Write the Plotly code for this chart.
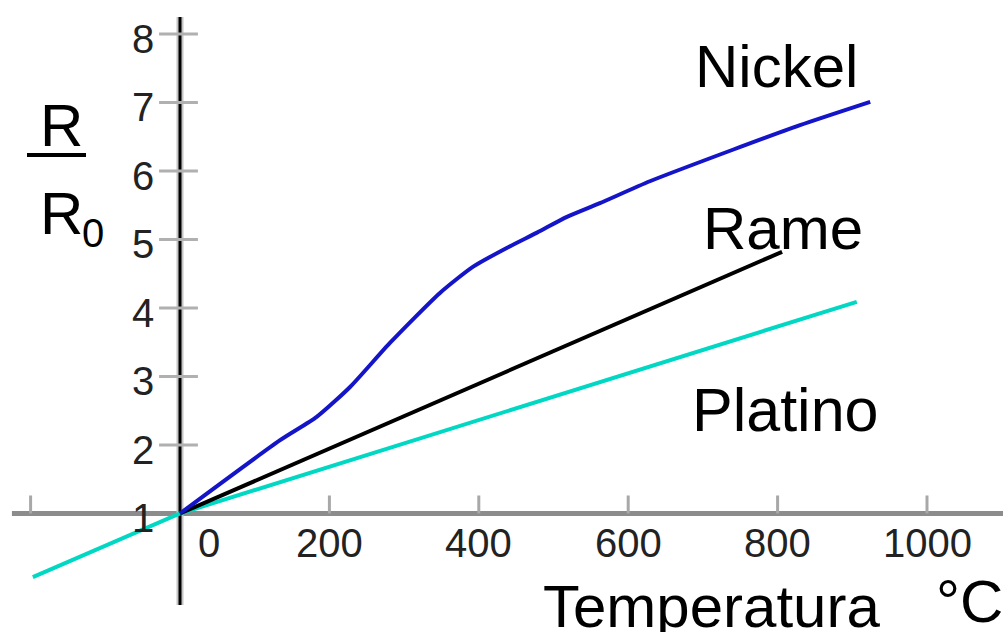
import plotly.graph_objects as go

# ---- data ----
nickel_t = [0, 134, 183, 228, 281, 348, 392, 438, 478, 518, 562, 629, 740, 830, 924]
nickel_r = [1.0, 2.07, 2.41, 2.85, 3.49, 4.22, 4.60, 4.88, 5.10, 5.33, 5.53, 5.85, 6.31, 6.67, 7.01]
rame_t = [0, 806]
rame_r = [1.0, 4.82]
platino_t = [-197, 0, 906]
platino_r = [0.07, 1.0, 4.09]

x_tick_marks = [-200, 200, 400, 600, 800, 1000]
x_tick_labels = [0, 200, 400, 600, 800, 1000]
y_ticks = [2, 3, 4, 5, 6, 7, 8]
y_tick_labels = [1, 2, 3, 4, 5, 6, 7, 8]

W, H = 1003, 632
FONT = "Liberation Sans, Arial, sans-serif"
X_RANGE = [-240.96, 1101.74]
Y_RANGE = [-0.730, 8.496]


def px(x):
    return x / W


def py(y):
    return 1 - y / H


fig = go.Figure()

fig.add_trace(go.Scatter(x=platino_t, y=platino_r, mode="lines",
                         line=dict(color="#00D8C4", width=4), name="Platino"))
fig.add_trace(go.Scatter(x=rame_t, y=rame_r, mode="lines",
                         line=dict(color="#000000", width=4), name="Rame"))
fig.add_trace(go.Scatter(x=nickel_t, y=nickel_r, mode="lines",
                         line=dict(color="#1414C8", width=4, shape="spline", smoothing=0.6),
                         name="Nickel"))

shapes = []
# axes
shapes.append(dict(type="line", xref="x", yref="y", x0=-225, x1=1102, y0=1, y1=1,
                   line=dict(color="#8c8c8c", width=5), layer="below"))
shapes.append(dict(type="line", xref="x", yref="y", x0=0, x1=0, y0=-0.336, y1=8.248,
                   line=dict(color="#c4c4c4", width=7), layer="below"))
shapes.append(dict(type="line", xref="x", yref="y", x0=0, x1=0, y0=-0.336, y1=8.248,
                   line=dict(color="#000000", width=3), layer="below"))
# x tick marks (above the axis)
for t in x_tick_marks:
    shapes.append(dict(type="line", xref="x", yref="y", x0=t, x1=t, y0=1, y1=1 + 18 / 68.5,
                       line=dict(color="#a8a8a8", width=3), layer="below"))
# y tick marks (crossing the axis)
for v in y_ticks:
    shapes.append(dict(type="line", xref="x", yref="y", x0=-28, x1=24, y0=v, y1=v,
                       line=dict(color="#b0b0b0", width=3), layer="below"))
# fraction bar
shapes.append(dict(type="line", xref="paper", yref="paper", x0=px(27), x1=px(86),
                   y0=py(155), y1=py(155), line=dict(color="#000000", width=4)))

annotations = []
for v in y_tick_labels:
    annotations.append(dict(x=0, y=v, xref="x", yref="y", text=str(v), showarrow=False,
                            xanchor="right", yanchor="middle", xshift=-24, yshift=-5,
                            font=dict(family=FONT, size=40, color="#222222")))
for t in x_tick_labels:
    annotations.append(dict(x=t, y=1, xref="x", yref="y", text=str(t), showarrow=False,
                            xanchor="center", yanchor="middle",
                            xshift=(29 if t == 0 else 0), yshift=-30,
                            font=dict(family=FONT, size=40, color="#222222")))


def label(text, x, y, size, anchor="center"):
    annotations.append(dict(x=px(x), y=py(y), xref="paper", yref="paper", text=text,
                            showarrow=False, xanchor=anchor, yanchor="middle",
                            font=dict(family=FONT, size=size, color="#000000")))


label("Nickel", 776, 66, 60)
label("Rame", 783, 229, 60)
label("Platino", 785, 410, 61)
label("Temperatura", 711, 606, 60)
label("°C", 934, 601, 60, anchor="left")
label("R", 61, 126, 60)
label("R", 61, 213, 60)
label("0", 93, 233, 40)

fig.update_layout(
    width=W, height=H,
    margin=dict(l=0, r=0, t=0, b=0),
    paper_bgcolor="white", plot_bgcolor="white",
    showlegend=False,
    xaxis=dict(range=X_RANGE, visible=False, fixedrange=True),
    yaxis=dict(range=Y_RANGE, visible=False, fixedrange=True),
    shapes=shapes,
    annotations=annotations,
)

fig.write_html("out.html", config={"displayModeBar": False},
               post_script="document.body.style.margin='0';document.body.style.overflow='hidden';")
